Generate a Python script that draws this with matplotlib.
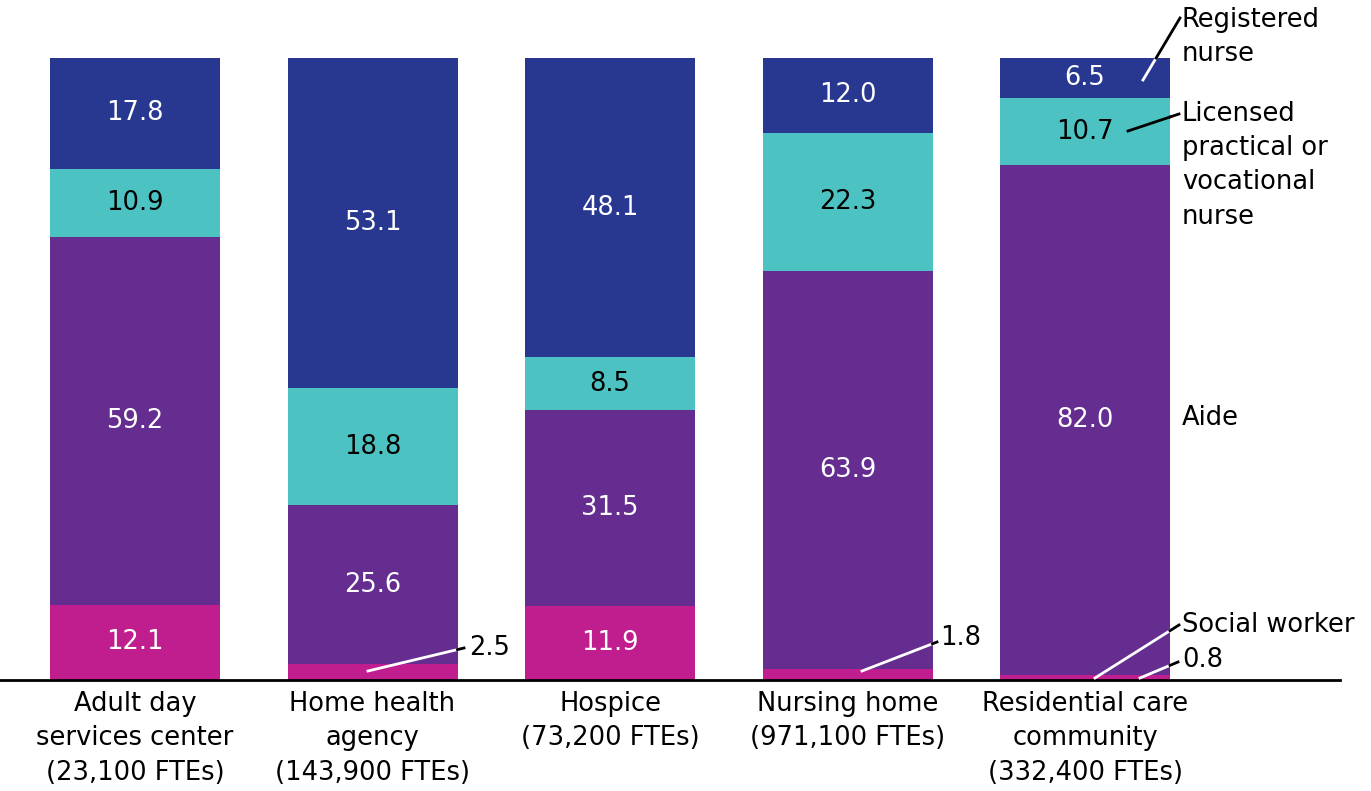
import matplotlib
matplotlib.use("Agg")
import matplotlib.pyplot as plt
import numpy as np

# share of FTEs by staff type, percent
categories = ["Adult day\nservices center\n(23,100 FTEs)",
              "Home health\nagency\n(143,900 FTEs)",
              "Hospice\n(73,200 FTEs)",
              "Nursing home\n(971,100 FTEs)",
              "Residential care\ncommunity\n(332,400 FTEs)"]
social_worker = [12.1, 2.5, 11.9, 1.8, 0.8]
aide = [59.2, 25.6, 31.5, 63.9, 82.0]
lpn = [10.9, 18.8, 8.5, 22.3, 10.7]
rn = [17.8, 53.1, 48.1, 12.0, 6.5]

series = [("Social worker", social_worker, "#c01e8e", "white"),
          ("Aide", aide, "#652d90", "white"),
          ("Licensed practical or vocational nurse", lpn, "#4cc3c2", "black"),
          ("Registered nurse", rn, "#283891", "white")]

W, H = 1371, 791
fig = plt.figure(figsize=(W / 100, H / 100), dpi=100)
base_px, top_px = 680, 58
ax = fig.add_axes([0, (H - base_px) / H, 1, (base_px - top_px) / H])
step, first = 237.5, 135
ax.set_xlim(-first / step, (W - first) / step)
ax.set_ylim(0, 100)
ax.axis("off")

FS = 18.5
LS = 1.41
width = 170 / step
x = np.arange(len(categories))
bottom = np.zeros(len(categories))
for name, vals, color, tcolor in series:
    vals = np.array(vals)
    ax.bar(x, vals, width, bottom=bottom, color=color, linewidth=0)
    for i, v in enumerate(vals):
        if v >= 5:
            ax.text(x[i], bottom[i] + v / 2, f"{v:.1f}", ha="center", va="center",
                    color=tcolor, fontsize=FS)
    bottom += vals

ax.plot([ax.get_xlim()[0], (1340 - first) / step], [0, 0], color="black", lw=2,
        clip_on=False, zorder=5)

for i, c in enumerate(categories):
    ax.text(x[i], -1.8, c, ha="center", va="top", fontsize=FS, linespacing=LS,
            clip_on=False)


def px2d(px, py):
    return (px - first) / step, (base_px - py) / (base_px - top_px) * 100


def leader(p0, p1, bar_i, inner="white"):
    # leader line: inner colour while over the bar, black once outside it
    (x0, y0), (x1, y1) = p0, p1
    right = first + bar_i * step + 170 / 2
    ts = [(right - x0) / (x1 - x0)]
    if y1 < top_px:
        ts.append((top_px - y0) / (y1 - y0))
    t = min(ts)
    xe, ye = x0 + t * (x1 - x0), y0 + t * (y1 - y0)
    a, b, c = px2d(x0, y0), px2d(xe, ye), px2d(x1, y1)
    ax.plot([a[0], b[0]], [a[1], b[1]], color=inner, lw=2, zorder=6, clip_on=False)
    ax.plot([b[0], c[0]], [b[1], c[1]], color="black", lw=2, zorder=6, clip_on=False)


# small values labelled outside the bar
leader((368, 671), (464, 648), 1)
ax.text(*px2d(469, 648), "2.5", ha="left", va="center", fontsize=FS)
leader((862, 671), (937, 642), 3)
ax.text(*px2d(940, 638), "1.8", ha="left", va="center", fontsize=FS)
leader((1140, 678), (1178, 662), 4)
ax.text(*px2d(1182, 660), "0.8", ha="left", va="center", fontsize=FS)

# series labels on the right
leader((1143, 80), (1180, 18), 4)
ax.text(*px2d(1182, 7), "Registered\nnurse", ha="left", va="top",
        fontsize=FS, linespacing=LS, clip_on=False)
leader((1128, 131), (1179, 114), 4, inner="black")
ax.text(*px2d(1182, 101), "Licensed\npractical or\nvocational\nnurse", ha="left",
        va="top", fontsize=FS, linespacing=LS, clip_on=False)
ax.text(*px2d(1182, 418), "Aide", ha="left", va="center", fontsize=FS)
leader((1095, 678), (1179, 625), 4)
ax.text(*px2d(1182, 625), "Social worker", ha="left", va="center", fontsize=FS)

fig.savefig("out.png", dpi=100)
